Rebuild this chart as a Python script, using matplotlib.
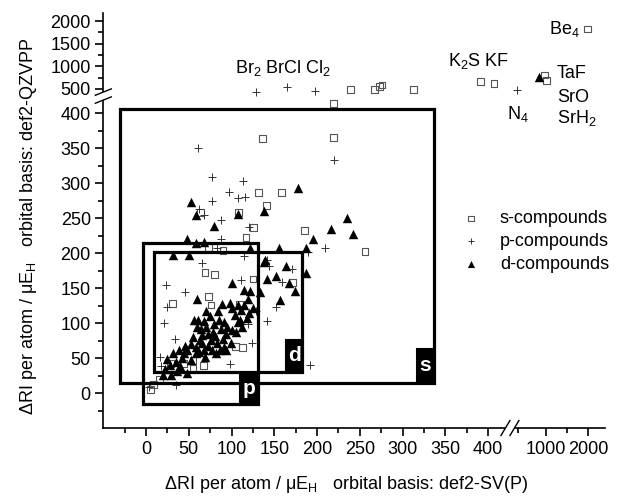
import numpy as np
import matplotlib
matplotlib.use("Agg")
import matplotlib.pyplot as plt
from matplotlib.patches import Rectangle, Polygon
from matplotlib.lines import Line2D

plt.rcParams["font.family"] = ["Liberation Sans", "DejaVu Sans"]
plt.rcParams["mathtext.fontset"] = "custom"
plt.rcParams["mathtext.rm"] = "Liberation Sans"
plt.rcParams["mathtext.it"] = "Liberation Sans:italic"
plt.rcParams["mathtext.default"] = "regular"

# ---- data (def2-SV(P) vs def2-QZVPP, per atom, µE_H) ----
s_x = [136, 219, 132, 158, 141, 108, 64, 185, 126, 117, 73, 90, 256, 69, 80, 125,
       171, 73, 76, 31, 105, 113, 67, 55, 44, 29, 5, 9, 16, 55, 109,
       219, 239, 267, 273, 276, 313, 391, 407, 960, 1017, 1983]
s_y = [364, 366, 287, 287, 268, 258, 258, 232, 237, 222, 208, 204, 203, 172, 170, 163,
       158, 138, 126, 128, 67, 65, 39, 47, 42, 42, 5, 12, 19, 35, 127,
       414, 493, 493, 551, 588, 493, 661, 626, 809, 683, 1824]

p_x = [61, 77, 113, 97, 107, 116, 77, 62, 68, 88, 120, 220, 88, 209, 189, 66, 114,
       141, 23, 46, 25, 111, 171, 159, 152, 141, 129, 119, 21, 34, 124, 98, 192, 35,
       16, 18, 3, 83, 144,
       129, 165, 198, 492]
p_y = [351, 309, 303, 288, 279, 280, 275, 263, 255, 247, 237, 334, 221, 207, 202, 186, 196,
       191, 154, 144, 123, 161, 177, 159, 123, 103, 118, 99, 100, 77, 72, 42, 40, 11,
       51, 38, 9, 208, 181,
       469, 537, 473, 479]

d_x = [53, 59, 107, 138, 178, 235, 216, 242, 195, 80, 48, 58, 68, 31, 50, 122, 156, 187,
       138, 139, 164, 152, 141, 167, 174, 187, 100, 115, 122, 133, 60, 157, 89, 98, 119,
       100, 111, 121, 104, 56, 61, 68, 79, 91, 108, 64, 65, 73, 81, 88, 94, 83, 91, 94,
       77, 68, 59, 59, 69, 48, 46, 38, 31, 44, 24, 22, 29, 36, 48, 20, 76, 63, 53, 82,
       110, 70, 75, 85, 95, 100, 66, 72, 86, 78, 90, 55, 62, 99, 105, 112, 118, 125,
       107, 115, 60, 70, 84, 52, 42, 35, 28, 40, 840]
d_y = [273, 255, 256, 260, 293, 251, 234, 228, 221, 239, 221, 215, 216, 198, 198, 208, 208, 208,
       187, 191, 181, 167, 163, 157, 146, 171, 158, 148, 146, 145, 135, 133, 128, 129, 134,
       121, 119, 115, 112, 105, 105, 103, 99, 101, 102, 91, 83, 84, 82, 92, 85, 72, 66, 61,
       61, 62, 66, 57, 52, 62, 67, 62, 57, 57, 48, 35, 26, 32, 29, 26, 76, 76, 47, 57,
       104, 95, 110, 105, 95, 90, 72, 68, 62, 88, 78, 80, 58, 72, 88, 95, 108, 122,
       126, 126, 95, 118, 118, 70, 50, 45, 40, 38, 758]

# selection boxes: (x0, x1, y0, y1) and their label tabs
box_names = ["s", "p", "d"]
box_x0 = [-30, -3.5, 9.5]
box_x1 = [337, 131, 182.5]
box_y0 = [15, -16, 30]
box_y1 = [406, 215, 202]
tab_x0 = [317, 110, 164]
tab_y1 = [63, 29, 76]

# ---- broken axes via piecewise-linear function scales ----
X_DATA = [-50, 425, 600, 2400]
X_PIX = [0, 406.1, 425.9, 501.5]
Y_DATA = [-50, 420, 480, 2180]
Y_PIX = [0, 328.6, 338.1, 415.1]


def piecewise(xs, ys):
    xs = np.asarray(xs, float)
    ys = np.asarray(ys, float)
    s0 = (ys[1] - ys[0]) / (xs[1] - xs[0])
    s1 = (ys[-1] - ys[-2]) / (xs[-1] - xs[-2])

    def f(v):
        v = np.asarray(v, float)
        out = np.interp(v, xs, ys)
        out = np.where(v < xs[0], ys[0] + (v - xs[0]) * s0, out)
        out = np.where(v > xs[-1], ys[-1] + (v - xs[-1]) * s1, out)
        return out
    return f


W, H = 624, 496
fig = plt.figure(figsize=(W / 100, H / 100), dpi=100)
ax = fig.add_axes([103.3 / W, 68 / H, X_PIX[-1] / W, Y_PIX[-1] / H])
ax.set_xscale("function", functions=(piecewise(X_DATA, X_PIX), piecewise(X_PIX, X_DATA)))
ax.set_yscale("function", functions=(piecewise(Y_DATA, Y_PIX), piecewise(Y_PIX, Y_DATA)))
ax.set_xlim(X_DATA[0], X_DATA[-1])
ax.set_ylim(Y_DATA[0], Y_DATA[-1])

hs = ax.scatter(s_x, s_y, marker="s", s=24, facecolors="none", edgecolors="#555555",
                linewidths=0.8, zorder=3, label="s-compounds")
hp = ax.scatter(p_x, p_y, marker="+", s=40, color="#333333", linewidths=0.7,
                zorder=3, label="p-compounds")
hd = ax.scatter(d_x, d_y, marker="^", s=46, color="black", linewidths=0,
                zorder=4, label="d-compounds")

for name, x0, x1, y0, y1, tx0, ty1 in zip(box_names, box_x0, box_x1, box_y0, box_y1,
                                          tab_x0, tab_y1):
    ax.add_patch(Rectangle((x0, y0), x1 - x0, y1 - y0, fill=False, lw=2.3,
                           edgecolor="black", zorder=5))
    ax.add_patch(Rectangle((tx0, y0), x1 - tx0, ty1 - y0, facecolor="black",
                           edgecolor="black", lw=1.5, zorder=6))
    ax.text((tx0 + x1) / 2, (y0 + ty1) / 2, name, color="white", fontsize=15,
            fontweight="bold", ha="center", va="center", zorder=7)

# compound labels
lab_fs = 13
ax.text(104, 846, "Br$_2$ BrCl Cl$_2$", fontsize=lab_fs, va="baseline")
ax.text(353, 1014, "K$_2$S KF", fontsize=lab_fs, va="baseline")
ax.text(1071, 1707, "Be$_4$", fontsize=lab_fs, va="baseline")
ax.text(1262, 736, "TaF", fontsize=lab_fs, va="baseline")
ax.text(1262, 416, "SrO", fontsize=lab_fs, va="baseline")
ax.text(1262, 386, "SrH$_2$", fontsize=lab_fs, va="baseline")
ax.text(422, 392, "N$_4$", fontsize=lab_fs, va="baseline")

# axes styling
for side in ("top", "right"):
    ax.spines[side].set_visible(False)
for side in ("left", "bottom"):
    ax.spines[side].set_linewidth(1.2)

xt = [0, 50, 100, 150, 200, 250, 300, 350, 400, 1000, 2000]
yt = [0, 50, 100, 150, 200, 250, 300, 350, 400, 500, 1000, 1500, 2000]
ax.set_xticks(xt)
ax.set_xticklabels([str(v) for v in xt])
ax.set_yticks(yt)
ax.set_yticklabels([str(v) for v in yt])
ax.set_xticks(list(range(-25, 400, 50)) + [500, 1500], minor=True)
ax.set_yticks(list(range(-25, 400, 50)) + [750, 1250, 1750], minor=True)
ax.tick_params(which="major", direction="out", length=6, width=1.2, labelsize=13, pad=3)
ax.tick_params(which="minor", direction="out", length=3.5, width=1.2)

ax.set_xlabel("ΔRI per atom / μE$_H$   orbital basis: def2-SV(P)", fontsize=13)
ax.xaxis.set_label_coords(0.484, -0.112)
ax.set_ylabel("ΔRI per atom / μE$_H$   orbital basis: def2-QZVPP", fontsize=13)
ax.yaxis.set_label_coords(-0.128, 0.485)

ax.legend(handles=[hs, hp, hd], loc="upper left", bbox_to_anchor=(462 / W, 1 - 210 / H),
          bbox_transform=fig.transFigure, frameon=False, fontsize=13, markerscale=0.75,
          handlelength=1.0, handletextpad=1.1, labelspacing=0.32, borderpad=0,
          borderaxespad=0)

# break marks on both axes
to_fig = fig.transFigure.inverted()


def break_mark(cx, cy, dx, dy, gx, gy):
    # two parallel slashes with a white gap between them (pixel offsets)
    pts = [(cx - gx - dx, cy - gy - dy), (cx - gx + dx, cy - gy + dy),
           (cx + gx + dx, cy + gy + dy), (cx + gx - dx, cy + gy - dy)]
    fpts = to_fig.transform(pts)
    fig.add_artist(Polygon(fpts, closed=True, facecolor="white", edgecolor="none",
                           transform=fig.transFigure, zorder=10))
    for sgn in (-1, 1):
        a = to_fig.transform([(cx + sgn * gx - dx, cy + sgn * gy - dy),
                              (cx + sgn * gx + dx, cy + sgn * gy + dy)])
        fig.add_artist(Line2D(a[:, 0], a[:, 1], color="black", lw=1.0,
                              transform=fig.transFigure, zorder=11))


fig.canvas.draw()
bx, by = ax.transData.transform((X_DATA[0], 441))
break_mark(bx, by, 8, 3.2, 0, 4)
bx, by = ax.transData.transform((430, Y_DATA[0]))
break_mark(bx, by, 4.5, 7.5, 4.5, 0)

fig.savefig("out.png", dpi=100)
